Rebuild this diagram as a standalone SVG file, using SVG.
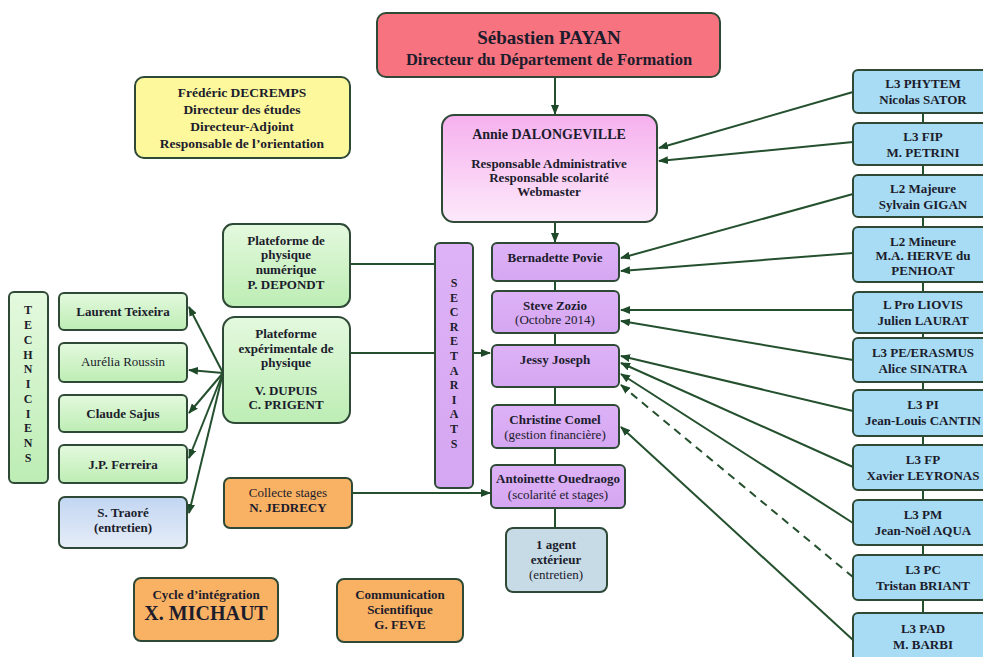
<svg xmlns="http://www.w3.org/2000/svg" width="983" height="657" viewBox="0 0 983 657">
<defs>
<style>
.b{stroke:#2e4a36;stroke-width:2}
.t{font-family:"Liberation Serif","Times New Roman",serif;font-weight:bold;fill:#1c1c2c;text-anchor:middle;font-size:13px}
.n{font-weight:normal}
.c{fill:none;stroke:#24502e;stroke-width:2}
.a{marker-end:url(#ah)}
</style>
<linearGradient id="gG" x1="0" y1="0" x2="0" y2="1"><stop offset="0" stop-color="#e4f9de"/><stop offset="1" stop-color="#bdedb4"/></linearGradient>
<linearGradient id="gP" x1="0" y1="0" x2="0" y2="1"><stop offset="0" stop-color="#f6b0ee"/><stop offset="1" stop-color="#fde9fb"/></linearGradient>
<linearGradient id="gV" x1="0" y1="0" x2="0" y2="1"><stop offset="0" stop-color="#ddb2f6"/><stop offset="1" stop-color="#d5a6f2"/></linearGradient>
<linearGradient id="gB" x1="0" y1="0" x2="0" y2="1"><stop offset="0" stop-color="#c2d6f2"/><stop offset="1" stop-color="#e6edf8"/></linearGradient>
<marker id="ah" markerUnits="userSpaceOnUse" markerWidth="10" markerHeight="8" refX="9" refY="4" orient="auto"><path d="M0,0 L10,4 L0,8 z" fill="#1f4a29"/></marker>
</defs>
<rect width="983" height="657" fill="#ffffff"/>
<g id="connectors">
<path class="c a" d="M555,77 L555,114"/>
<path class="c a" d="M555,222 L555,242"/>
<path class="c" d="M555,281 L555,528"/>
<path class="c" d="M923,113 L923,613"/>
<path class="c a" d="M853,92 L659,148"/>
<path class="c a" d="M853,142 L659,161"/>
<path class="c a" d="M853,194 L621,258"/>
<path class="c a" d="M853,253 L621,271"/>
<path class="c a" d="M853,310 L621,310"/>
<path class="c a" d="M853,360 L621,321"/>
<path class="c a" d="M853,411 L621,356"/>
<path class="c a" d="M853,467 L621,363"/>
<path class="c a" d="M853,523 L621,374"/>
<path class="c a" d="M853,577 L621,385" stroke-dasharray="8,6"/>
<path class="c a" d="M853,640 L621,427"/>
<path class="c" d="M350,264 L435,264"/>
<path class="c a" d="M350,353 L490,353"/>
<path class="c a" d="M352,493 L490,493"/>
<path class="c a" d="M223,373 L189,307"/>
<path class="c a" d="M223,373 L189,370"/>
<path class="c a" d="M223,373 L189,413"/>
<path class="c a" d="M223,373 L189,458"/>
<path class="c a" d="M223,373 L189,513"/>
</g>
<g id="payan"><rect class="b" x="377" y="13" width="343" height="64" rx="9" fill="#f7737f"/>
<text class="t" x="549" y="44" style="font-size:19px">Sébastien PAYAN</text>
<text class="t" x="549" y="65" style="font-size:16.5px">Directeur du Département de Formation</text></g>
<g id="annie"><rect class="b" x="442" y="115" width="215" height="107" rx="12" fill="url(#gP)"/>
<text class="t" x="549" y="139" style="font-size:14px">Annie DALONGEVILLE</text>
<text class="t" x="549" y="168">Responsable Administrative</text>
<text class="t" x="549" y="182">Responsable scolarité</text>
<text class="t" x="549" y="196">Webmaster</text></g>
<g id="decremps"><rect class="b" x="135" y="77" width="215" height="81" rx="9" fill="#fdf89c"/>
<text class="t" x="242" y="97" style="font-size:13.5px">Frédéric DECREMPS</text>
<text class="t" x="242" y="114" style="font-size:13.5px">Directeur des études</text>
<text class="t" x="242" y="131" style="font-size:13.5px">Directeur-Adjoint</text>
<text class="t" x="242" y="148" style="font-size:13.5px">Responsable de l’orientation</text></g>
<g id="techniciens"><rect class="b" x="9" y="292" width="39" height="191" rx="5" fill="url(#gG)"/>
<text class="t" x="28" style="font-size:12px"><tspan x="28" y="314">T</tspan><tspan x="28" y="329">E</tspan><tspan x="28" y="344">C</tspan><tspan x="28" y="359">H</tspan><tspan x="28" y="373">N</tspan><tspan x="28" y="388">I</tspan><tspan x="28" y="403">C</tspan><tspan x="28" y="418">I</tspan><tspan x="28" y="432">E</tspan><tspan x="28" y="447">N</tspan><tspan x="28" y="462">S</tspan></text></g>
<g id="teixeira"><rect class="b" x="59" y="293" width="128" height="37" rx="5" fill="url(#gG)"/><text class="t" x="123" y="316">Laurent Teixeira</text></g>
<g id="roussin"><rect class="b" x="59" y="343" width="128" height="39" rx="5" fill="url(#gG)"/><text class="t n" x="123" y="366">Aurélia Roussin</text></g>
<g id="sajus"><rect class="b" x="59" y="395" width="128" height="37" rx="5" fill="url(#gG)"/><text class="t" x="123" y="418">Claude Sajus</text></g>
<g id="ferreira"><rect class="b" x="59" y="445" width="128" height="38" rx="5" fill="url(#gG)"/><text class="t" x="123" y="469">J.P. Ferreira</text></g>
<g id="traore"><rect class="b" x="59" y="497" width="128" height="51" rx="6" fill="url(#gB)"/><text class="t" x="123" y="517">S. Traoré</text><text class="t" x="123" y="532">(entretien)</text></g>
<g id="plat-num"><rect class="b" x="223" y="224" width="127" height="83" rx="10" fill="url(#gG)"/>
<text class="t" x="286" y="245">Plateforme de</text><text class="t" x="286" y="259">physique</text><text class="t" x="286" y="274">numérique</text><text class="t" x="286" y="289">P. DEPONDT</text></g>
<g id="plat-exp"><rect class="b" x="223" y="317" width="127" height="106" rx="12" fill="url(#gG)"/>
<text class="t" x="286" y="338">Plateforme</text><text class="t" x="286" y="353">expérimentale de</text><text class="t" x="286" y="367">physique</text><text class="t" x="286" y="395">V. DUPUIS</text><text class="t" x="286" y="409">C. PRIGENT</text></g>
<g id="collecte"><rect class="b" x="224" y="478" width="128" height="50" rx="6" fill="#f9b163"/><text class="t n" x="288" y="497">Collecte stages</text><text class="t" x="288" y="512">N. JEDRECY</text></g>
<g id="cycle"><rect class="b" x="134" y="578" width="144" height="63" rx="7" fill="#f9b163"/><text class="t" x="206" y="599" style="font-size:13px">Cycle d’intégration</text><text class="t" x="206" y="620" style="font-size:20px">X. MICHAUT</text></g>
<g id="communication"><rect class="b" x="337" y="579" width="126" height="63" rx="7" fill="#f9b163"/><text class="t" x="400" y="599">Communication</text><text class="t" x="400" y="614">Scientifique</text><text class="t" x="400" y="629">G. FEVE</text></g>
<g id="secretariats"><rect class="b" x="435" y="243" width="38" height="245" rx="5" fill="url(#gV)"/>
<text class="t" x="454" style="font-size:12px"><tspan x="454" y="287">S</tspan><tspan x="454" y="302">E</tspan><tspan x="454" y="316">C</tspan><tspan x="454" y="331">R</tspan><tspan x="454" y="345">E</tspan><tspan x="454" y="360">T</tspan><tspan x="454" y="375">A</tspan><tspan x="454" y="389">R</tspan><tspan x="454" y="404">I</tspan><tspan x="454" y="418">A</tspan><tspan x="454" y="433">T</tspan><tspan x="454" y="448">S</tspan></text></g>
<g id="povie"><rect class="b" x="492" y="243" width="127" height="38" rx="5" fill="url(#gV)"/><text class="t" x="555" y="262">Bernadette Povie</text></g>
<g id="zozio"><rect class="b" x="492" y="291" width="127" height="42" rx="5" fill="url(#gV)"/><text class="t" x="555" y="310">Steve Zozio</text><text class="t n" x="555" y="324">(Octobre 2014)</text></g>
<g id="joseph"><rect class="b" x="492" y="345" width="127" height="42" rx="5" fill="url(#gV)"/><text class="t" x="555" y="364">Jessy Joseph</text></g>
<g id="comel"><rect class="b" x="492" y="405" width="127" height="43" rx="5" fill="url(#gV)"/><text class="t" x="555" y="424">Christine Comel</text><text class="t n" x="555" y="439">(gestion financière)</text></g>
<g id="ouedraogo"><rect class="b" x="491" y="465" width="134" height="43" rx="5" fill="url(#gV)"/><text class="t" x="558" y="483">Antoinette Ouedraogo</text><text class="t n" x="558" y="499">(scolarité et stages)</text></g>
<g id="agent"><rect class="b" x="506" y="528" width="101" height="64" rx="7" fill="#c7dbe7"/><text class="t" x="556" y="549">1 agent</text><text class="t" x="556" y="564">extérieur</text><text class="t n" x="556" y="579">(entretien)</text></g>
<g id="phytem"><rect class="b" x="853" y="70" width="140" height="43" rx="5" fill="#a8dcf5"/><text class="t" x="923" y="88">L3 PHYTEM</text><text class="t" x="923" y="104">Nicolas SATOR</text></g>
<g id="fip"><rect class="b" x="853" y="123" width="140" height="42" rx="5" fill="#a8dcf5"/><text class="t" x="923" y="141">L3 FIP</text><text class="t" x="923" y="157">M. PETRINI</text></g>
<g id="l2maj"><rect class="b" x="853" y="175" width="140" height="42" rx="5" fill="#a8dcf5"/><text class="t" x="923" y="193">L2 Majeure</text><text class="t" x="923" y="209">Sylvain GIGAN</text></g>
<g id="l2min"><rect class="b" x="853" y="227" width="140" height="55" rx="5" fill="#a8dcf5"/><text class="t" x="923" y="246">L2 Mineure</text><text class="t" x="923" y="260">M.A. HERVE du</text><text class="t" x="923" y="275">PENHOAT</text></g>
<g id="lpro"><rect class="b" x="853" y="292" width="140" height="41" rx="5" fill="#a8dcf5"/><text class="t" x="923" y="309">L Pro LIOVIS</text><text class="t" x="923" y="325">Julien LAURAT</text></g>
<g id="erasmus"><rect class="b" x="853" y="338" width="140" height="44" rx="5" fill="#a8dcf5"/><text class="t" x="923" y="357">L3 PE/ERASMUS</text><text class="t" x="923" y="373">Alice SINATRA</text></g>
<g id="l3pi"><rect class="b" x="853" y="390" width="140" height="46" rx="5" fill="#a8dcf5"/><text class="t" x="923" y="409">L3 PI</text><text class="t" x="923" y="425">Jean-Louis CANTIN</text></g>
<g id="l3fp"><rect class="b" x="853" y="445" width="140" height="45" rx="5" fill="#a8dcf5"/><text class="t" x="923" y="464">L3 FP</text><text class="t" x="923" y="480">Xavier LEYRONAS</text></g>
<g id="l3pm"><rect class="b" x="853" y="500" width="140" height="45" rx="5" fill="#a8dcf5"/><text class="t" x="923" y="519">L3 PM</text><text class="t" x="923" y="535">Jean-Noël AQUA</text></g>
<g id="l3pc"><rect class="b" x="853" y="555" width="140" height="45" rx="5" fill="#a8dcf5"/><text class="t" x="923" y="574">L3 PC</text><text class="t" x="923" y="590">Tristan BRIANT</text></g>
<g id="l3pad"><rect class="b" x="853" y="613" width="140" height="55" rx="5" fill="#a8dcf5"/><text class="t" x="923" y="633">L3 PAD</text><text class="t" x="923" y="649">M. BARBI</text></g>
</svg>
